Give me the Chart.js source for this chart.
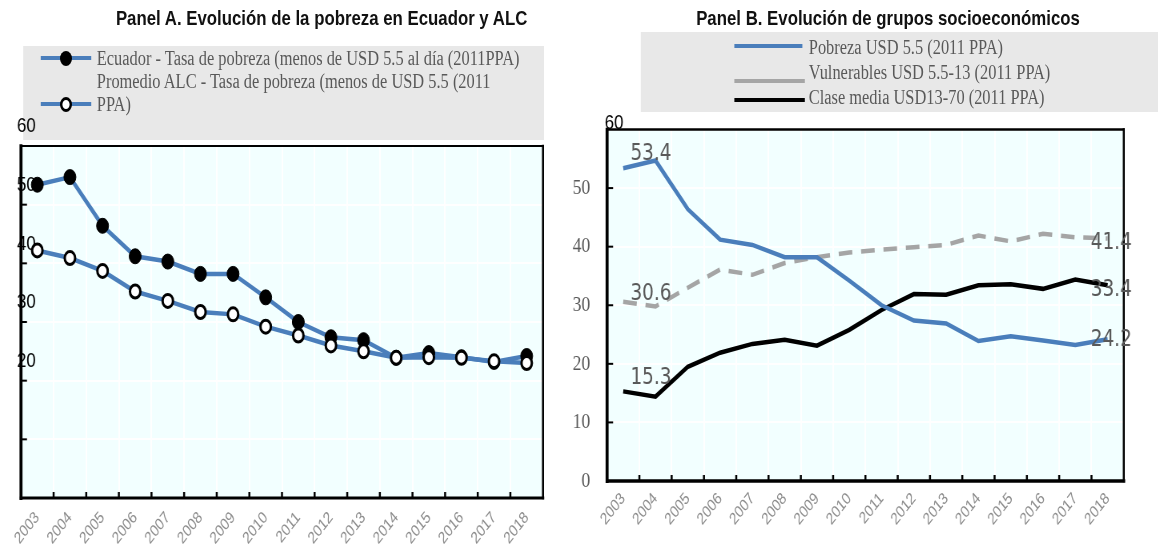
<!DOCTYPE html>
<html lang="es">
<head>
<meta charset="utf-8">
<title>Pobreza y grupos socioeconómicos - Ecuador</title>
<script src="https://cdn.jsdelivr.net/npm/chart.js@4.4.1/dist/chart.umd.min.js"></script>
<style>
  body { margin: 0; width: 1158px; height: 547px; overflow: hidden; position: relative; background: #fff; }
  /* the reference is horizontally condensed, so each panel is laid out wider and squeezed */
  .panel { position: absolute; top: 0; height: 547px; transform: scaleX(0.8); transform-origin: 0 0; }
  #panelA { left: 0; width: 700px; }
  #panelB { left: 560px; width: 747.5px; }
  .wrap { position: absolute; left: 0; top: 0; width: 100%; height: 547px; }
  .title { position: absolute; top: 6px; transform: translateX(-50%); white-space: nowrap;
           font: bold 21px 'Liberation Sans', Arial, sans-serif; color: #111; }
  .legend { position: absolute; background: #e8e8e8; }
  .leg-text { position: absolute; white-space: nowrap; font: 20.5px 'Liberation Serif', 'Times New Roman', serif;
              line-height: 23px; color: #595959; }
  .leg-line { position: absolute; height: 4px; }
  .leg-dot { position: absolute; width: 15px; height: 15px; border-radius: 50%; box-sizing: border-box; }
</style>
</head>
<body>

<div class="panel" id="panelA">
  <div class="title" style="left:402px">Panel A. Evolución de la pobreza en Ecuador y ALC</div>
  <div class="legend" style="left:28.75px; top:46px; width:651.25px; height:94px"></div>
  <div class="leg-line" style="left:51px; top:56px; width:63px; background:#4a7ebb"></div>
  <div class="leg-dot" style="left:75px; top:50.5px; background:#000"></div>
  <div class="leg-text" style="left:121px; top:47px">Ecuador - Tasa de pobreza (menos de USD 5.5 al día (2011PPA)</div>
  <div class="leg-text" style="left:121px; top:70px">Promedio ALC - Tasa de pobreza (menos de USD 5.5 (2011<br>PPA)</div>
  <div class="leg-line" style="left:51px; top:102px; width:63px; background:#4a7ebb"></div>
  <div class="leg-dot" style="left:75px; top:96.5px; background:#fff; border:3px solid #000"></div>
  <div class="wrap"><canvas id="chartA"></canvas></div>
</div>

<div class="panel" id="panelB">
  <div class="title" style="left:410px">Panel B. Evolución de grupos socioeconómicos</div>
  <div class="legend" style="left:101.25px; top:32px; width:646.25px; height:80px"></div>
  <div class="leg-line" style="left:217.5px; top:44px; width:85px; background:#4a7ebb"></div>
  <div class="leg-text" style="left:311px; top:36px">Pobreza USD 5.5 (2011 PPA)</div>
  <div class="leg-line" style="left:217.5px; top:79px; width:88px; background:#a5a5a5"></div>
  <div class="leg-text" style="left:311px; top:61px">Vulnerables USD 5.5-13 (2011 PPA)</div>
  <div class="leg-line" style="left:217.5px; top:98px; width:88px; background:#000"></div>
  <div class="leg-text" style="left:311px; top:86px">Clase media USD13-70 (2011 PPA)</div>
  <div class="wrap"><canvas id="chartB"></canvas></div>
</div>

<script>
// Data (% of population)
const years = ['2003', '2004', '2005', '2006', '2007', '2008', '2009', '2010',
               '2011', '2012', '2013', '2014', '2015', '2016', '2017', '2018'];

// Ecuador, poverty below USD 5.5/day — same series in both panels
const ecuadorPobreza = [53.4, 54.7, 46.4, 41.2, 40.3, 38.2, 38.2, 34.2,
                        30.0, 27.4, 26.9, 23.9, 24.7, 24.0, 23.2, 24.2];
const alcPobreza     = [42.2, 40.9, 38.7, 35.2, 33.6, 31.7, 31.3, 29.2,
                        27.7, 26.0, 25.0, 23.9, 24.0, 23.9, 23.3, 23.0];
const vulnerables    = [30.6, 29.8, 33.0, 36.1, 35.2, 37.2, 38.2, 39.0,
                        39.5, 39.9, 40.3, 41.9, 40.9, 42.2, 41.6, 41.4];
const claseMedia     = [15.3, 14.4, 19.5, 21.9, 23.4, 24.1, 23.1, 25.8,
                        29.2, 31.9, 31.8, 33.4, 33.6, 32.8, 34.4, 33.4];

const BLUE  = '#4a7ebb';
const GREY  = '#a5a5a5';
const SANS  = "'Liberation Sans', Arial, sans-serif";
const SERIF = "'Liberation Serif', 'Times New Roman', serif";
const LABEL_FONT = "'DejaVu Sans', Verdana, sans-serif";

Chart.defaults.animation = false;
Chart.defaults.devicePixelRatio = 1;

// light cyan plot background
const plotBg = {
  id: 'plotBg',
  beforeDraw(chart) {
    const { ctx, chartArea: a } = chart;
    ctx.save();
    ctx.fillStyle = '#f2ffff';
    ctx.fillRect(a.left, a.top, a.width, a.height);
    ctx.restore();
  }
};

// black frame + short inner tick marks
const frame = {
  id: 'frame',
  beforeDatasetsDraw(chart, args, opts) {
    const { ctx, chartArea: a, scales: { x, y } } = chart;
    const w = opts.widths;
    ctx.save();
    ctx.strokeStyle = '#000';
    ctx.lineCap = 'square';
    const seg = (lw, x1, y1, x2, y2) => {
      ctx.lineWidth = lw;
      ctx.beginPath(); ctx.moveTo(x1, y1); ctx.lineTo(x2, y2); ctx.stroke();
    };
    seg(w.top, a.left, a.top, a.right, a.top);
    seg(w.right, a.right, a.top, a.right, a.bottom);
    seg(w.bottom, a.left, a.bottom, a.right, a.bottom);
    seg(w.left, a.left, a.top, a.left, a.bottom);
    ctx.lineCap = 'butt';
    y.ticks.forEach((t, i) => {
      if (t.value <= y.min || t.value >= y.max) return;
      const py = y.getPixelForTick(i);
      seg(2, a.left, py, a.left + 7.5, py);
    });
    for (let i = 1; i < x.ticks.length; i++) {
      const px = x.getPixelForValue(i - 0.5);
      seg(2.5, px, a.bottom, px, a.bottom - 6);
    }
    ctx.restore();
  }
};

// value labels at the start and end of the Panel B lines
const endLabels = {
  id: 'endLabels',
  afterDatasetsDraw(chart, args, opts) {
    const { ctx } = chart;
    ctx.save();
    ctx.font = '23px ' + LABEL_FONT;
    ctx.fillStyle = '#595959';
    ctx.textBaseline = 'middle';
    ctx.textAlign = 'left';
    opts.items.forEach(it => {
      const pt = chart.getDatasetMeta(it.ds).data[it.i];
      const v = chart.data.datasets[it.ds].data[it.i];
      ctx.fillText(v.toFixed(1), pt.x + it.dx, pt.y + it.dy);
    });
    // the top "60" label sits over the corner of the frame in the original
    const y = chart.scales.y;
    ctx.font = '21px ' + SANS;
    ctx.fillStyle = '#000';
    ctx.fillText('60', chart.chartArea.left - 3, y.getPixelForValue(60) - 6);
    ctx.restore();
  }
};

function xAxis(height, pad) {
  return {
    offset: true,
    grid: { offset: true, color: '#ffffff', lineWidth: 2, drawTicks: false },
    border: { display: false },
    ticks: {
      autoSkip: false, minRotation: 46, maxRotation: 46, padding: pad,
      color: '#8c8c8c', font: { family: SANS, size: 16.5 }
    },
    afterFit: s => { s.height = height; }
  };
}

// Panel A
new Chart(document.getElementById('chartA'), {
  type: 'line',
  data: {
    labels: years,
    datasets: [
      {
        label: 'Ecuador - Tasa de pobreza (menos de USD 5.5 al día (2011PPA)',
        data: ecuadorPobreza,
        order: 1,
        borderColor: BLUE, borderWidth: 4.5, tension: 0,
        pointRadius: 7.5, pointBackgroundColor: '#000', pointBorderColor: '#000', pointBorderWidth: 1
      },
      {
        label: 'Promedio ALC - Tasa de pobreza (menos de USD 5.5 (2011 PPA)',
        data: alcPobreza,
        order: 0,
        borderColor: BLUE, borderWidth: 4.5, tension: 0,
        pointRadius: 6.5, pointBackgroundColor: '#fff', pointBorderColor: '#000', pointBorderWidth: 3
      }
    ]
  },
  options: {
    responsive: true,
    maintainAspectRatio: false,
    layout: { padding: { top: 146, right: 21.25, left: 0, bottom: 0 } },
    plugins: { legend: { display: false }, tooltip: { enabled: false },
               frame: { widths: { top: 2, right: 2.5, bottom: 3, left: 3.75 } } },
    scales: {
      x: xAxis(49, 10),
      y: {
        min: 0, max: 60,
        grid: { color: '#ffffff', lineWidth: 2, drawTicks: false },
        border: { display: false },
        ticks: {
          stepSize: 10, mirror: true, padding: -5, labelOffset: -19.5,
          color: '#000', font: { family: SANS, size: 21 },
          callback: v => (v >= 20 ? v : '')
        },
        afterFit: s => { s.width = 26.25; }
      }
    }
  },
  plugins: [plotBg, frame]
});

// Panel B
new Chart(document.getElementById('chartB'), {
  type: 'line',
  data: {
    labels: years,
    datasets: [
      { label: 'Pobreza USD 5.5 (2011 PPA)', data: ecuadorPobreza,
        borderColor: BLUE, borderWidth: 4.5, pointRadius: 0, tension: 0 },
      { label: 'Vulnerables USD 5.5-13 (2011 PPA)', data: vulnerables,
        borderColor: GREY, borderWidth: 4.5, borderDash: [17, 11], pointRadius: 0, tension: 0 },
      { label: 'Clase media USD13-70 (2011 PPA)', data: claseMedia,
        borderColor: '#000', borderWidth: 4.5, pointRadius: 0, tension: 0 }
    ]
  },
  options: {
    responsive: true,
    maintainAspectRatio: false,
    layout: { padding: { top: 129.5, right: 43.75, left: 0, bottom: 0 } },
    plugins: {
      legend: { display: false }, tooltip: { enabled: false },
      frame: { widths: { top: 2.5, right: 2.5, bottom: 3.5, left: 3.75 } },
      endLabels: {
        items: [
          { ds: 0, i: 0,  dx: 9,   dy: -14 },
          { ds: 1, i: 0,  dx: 9,   dy: -8 },
          { ds: 2, i: 0,  dx: 9,   dy: -13 },
          { ds: 1, i: 15, dx: -21, dy: 4.5 },
          { ds: 2, i: 15, dx: -21, dy: 5 },
          { ds: 0, i: 15, dx: -21, dy: 1 }
        ]
      }
    },
    scales: {
      x: xAxis(66, 8),
      y: {
        min: 0, max: 60,
        grid: { color: '#ffffff', lineWidth: 2, drawTicks: false },
        border: { display: false },
        ticks: {
          stepSize: 10, padding: 21,
          color: '#595959', font: { family: SERIF, size: 22 },
          callback: v => (v === 60 ? '' : v)
        },
        afterFit: s => { s.width = 58.75; }
      }
    }
  },
  plugins: [plotBg, frame, endLabels]
});
</script>
</body>
</html>
